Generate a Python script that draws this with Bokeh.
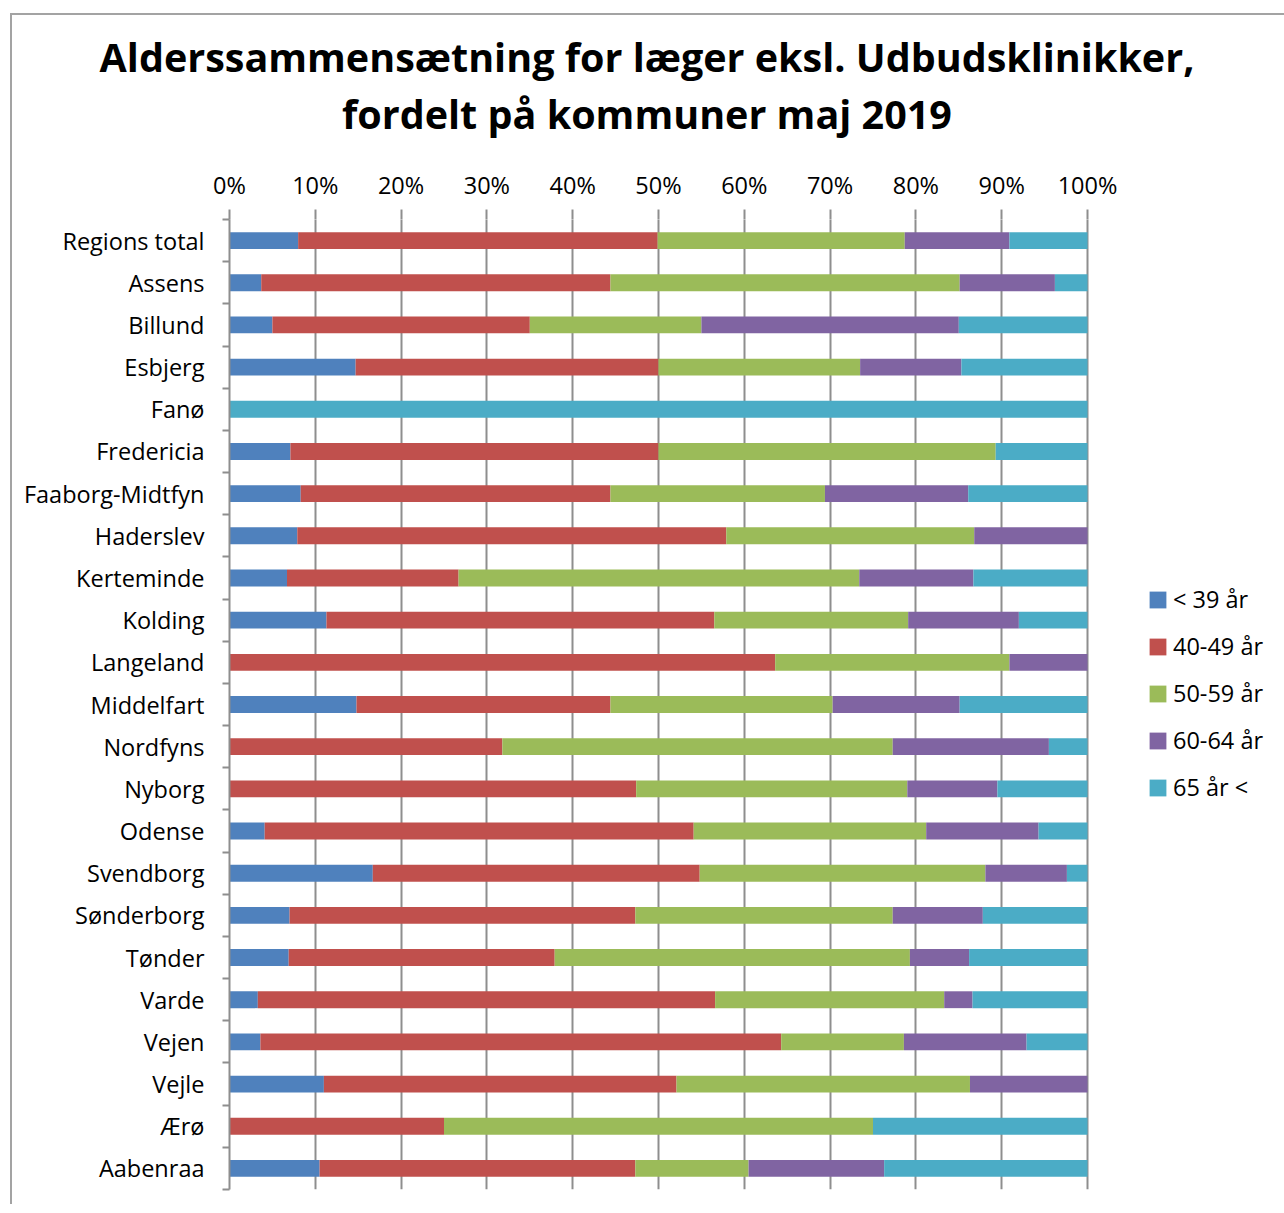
from bokeh.plotting import figure
from bokeh.models import (ColumnDataSource, Range1d, FixedTicker, PrintfTickFormatter,
                          Legend, LegendItem, Div)
from bokeh.layouts import column
from bokeh.embed import file_html
from bokeh.resources import INLINE

title_lines = ["Alderssammensætning for læger eksl. Udbudsklinikker,",
               "fordelt på kommuner maj 2019"]

categories = ["Regions total", "Assens", "Billund", "Esbjerg", "Fanø", "Fredericia",
              "Faaborg-Midtfyn", "Haderslev", "Kerteminde", "Kolding", "Langeland",
              "Middelfart", "Nordfyns", "Nyborg", "Odense", "Svendborg", "Sønderborg",
              "Tønder", "Varde", "Vejen", "Vejle", "Ærø", "Aabenraa"]

series_names = ["< 39 år", "40-49 år", "50-59 år", "60-64 år", "65 år <"]

age_u39 = [8.0, 3.7, 5.0, 14.7, 0.0, 7.1, 8.3, 7.9, 6.7, 11.3, 0.0, 14.8,
           0.0, 0.0, 4.1, 16.7, 7.0, 6.9, 3.3, 3.6, 11.0, 0.0, 10.5]
age_40_49 = [41.9, 40.7, 30.0, 35.3, 0.0, 42.9, 36.1, 50.0, 20.0, 45.2, 63.6, 29.6,
             31.8, 47.4, 50.0, 38.1, 40.3, 31.0, 53.3, 60.7, 41.1, 25.0, 36.8]
age_50_59 = [28.8, 40.7, 20.0, 23.5, 0.0, 39.3, 25.0, 28.9, 46.7, 22.6, 27.3, 25.9,
             45.5, 31.6, 27.1, 33.3, 30.0, 41.4, 26.7, 14.3, 34.2, 50.0, 13.2]
age_60_64 = [12.2, 11.1, 30.0, 11.8, 0.0, 0.0, 16.7, 13.2, 13.3, 12.9, 9.1, 14.8,
             18.2, 10.5, 13.1, 9.5, 10.5, 6.9, 3.3, 14.3, 13.7, 0.0, 15.8]
age_65p = [9.1, 3.8, 15.0, 14.7, 100.0, 10.7, 13.9, 0.0, 13.3, 8.0, 0.0, 14.9,
           4.5, 10.5, 5.7, 2.4, 12.2, 13.8, 13.4, 7.1, 0.0, 25.0, 23.7]

x_ticks = list(range(0, 101, 10))

colors = ["#4F81BD", "#C0504D", "#9BBB59", "#8064A2", "#4BACC6"]
FONT = "Open Sans"
FS = "23.5px"
GRID = "#8e8e8e"

# layout: the 0-100 % scale spans 858 px; the frame continues to the right to hold the legend
AXIS_PX = 858
FRAME_W = 1053
FRAME_H = 970

n = len(categories)
ypos = [n - i - 0.5 for i in range(n)]
keys = ["s0", "s1", "s2", "s3", "s4"]
source = ColumnDataSource(dict(y=ypos, s0=age_u39, s1=age_40_49, s2=age_50_59,
                               s3=age_60_64, s4=age_65p))

p = figure(frame_width=FRAME_W, frame_height=FRAME_H,
           x_range=Range1d(0, 100 * FRAME_W / AXIS_PX), y_range=Range1d(0, n),
           x_axis_location="above", output_backend="svg", toolbar_location=None,
           min_border_left=217, min_border_right=0, min_border_top=54,
           min_border_bottom=15)
p.outline_line_color = None

rends = p.hbar_stack(keys, y="y", height=0.4, color=colors, source=source,
                     line_color=None)

# x axis (top)
xa = p.xaxis[0]
xa.ticker = FixedTicker(ticks=x_ticks)
xa.formatter = PrintfTickFormatter(format="%d%%")
xa.axis_line_color = None
xa.major_tick_in = 0
xa.major_tick_out = 10
xa.major_tick_line_color = GRID
xa.major_tick_line_width = 2
xa.minor_tick_line_color = None
xa.major_label_standoff = 9
xa.major_label_text_font = FONT
xa.major_label_text_font_size = FS
xa.major_label_text_color = "black"

p.xgrid.ticker = FixedTicker(ticks=x_ticks)
p.xgrid.grid_line_color = GRID
p.xgrid.grid_line_width = 2
p.ygrid.grid_line_color = None

# y axis (left)
ya = p.yaxis[0]
ya.ticker = FixedTicker(ticks=ypos, minor_ticks=[float(k) for k in range(n + 1)])
ya.major_label_overrides = {y: c for y, c in zip(ypos, categories)}
ya.axis_line_color = GRID
ya.axis_line_width = 2
ya.major_tick_line_color = None
ya.major_tick_in = 0
ya.major_tick_out = 0
ya.minor_tick_line_color = GRID
ya.minor_tick_line_width = 2
ya.minor_tick_in = 0
ya.minor_tick_out = 7
ya.major_label_standoff = 18
ya.major_label_text_font = FONT
ya.major_label_text_font_size = FS
ya.major_label_text_color = "black"

legend = Legend(items=[LegendItem(label=s, renderers=[r]) for s, r in zip(series_names, rends)],
                location=(918, 386), orientation="vertical",
                glyph_width=21, glyph_height=21, label_height=21, spacing=15,
                label_standoff=5, padding=0, margin=0,
                label_text_font=FONT, label_text_font_size=FS,
                label_text_color="black",
                border_line_color=None, background_fill_alpha=0)
p.add_layout(legend, "center")

title_html = ('<div style="padding-top:9px;text-align:center;font-family:\'Open Sans\';'
              'font-weight:bold;font-size:39.5px;line-height:57px;color:black;width:1260px">'
              + "<br>".join(title_lines) + '</div>')
title_div = Div(text=title_html, width=1270, height=140)

layout = column(title_div, p, spacing=0,
                styles={"border-left": "2px solid #a3a3a3", "border-top": "2px solid #a3a3a3",
                        "margin-left": "10px", "margin-top": "13px"})

open("out.html", "w").write(file_html(layout, INLINE))
